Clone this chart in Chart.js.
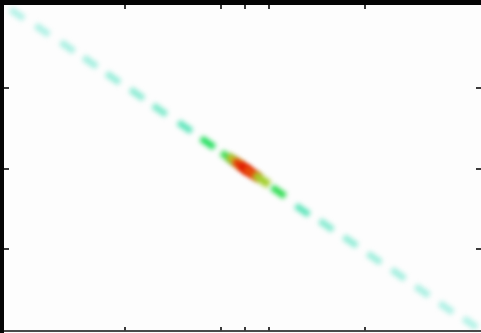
<!DOCTYPE html>
<html>
<head>
<meta charset="utf-8">
<script src="https://cdn.jsdelivr.net/npm/chart.js@4"></script>
<style>
  html, body { margin: 0; padding: 0; background: #fdfdfd; overflow: hidden; }
  #wrap { width: 481px; height: 333px; }
</style>
</head>
<body>
<div id="wrap"><canvas id="myChart" width="481" height="333"></canvas></div>
<script>
// values
const xValues = [-1.90, -1.69, -1.48, -1.29, -1.10, -0.90, -0.71, -0.50, -0.31, -0.14, -0.08, -0.03, 0.02, 0.06, 0.14, 0.28, 0.48, 0.68, 0.88, 1.08, 1.28, 1.48, 1.68, 1.88];
const yValues = [1.93, 1.73, 1.52, 1.33, 1.13, 0.93, 0.73, 0.52, 0.32, 0.14, 0.09, 0.03, -0.02, -0.06, -0.14, -0.29, -0.52, -0.71, -0.91, -1.12, -1.32, -1.53, -1.74, -1.93];
const intensity = [0.13, 0.15, 0.16, 0.17, 0.19, 0.21, 0.24, 0.3, 0.44, 0.48, 0.7, 0.95, 1.0, 0.9, 0.62, 0.47, 0.3, 0.22, 0.2, 0.18, 0.17, 0.16, 0.15, 0.14];
const xTicks = [-1, -0.2, 0, 0.2, 1];
const yTicks = [-1, 0, 1];

const palette = [
  [0.00, [210, 248, 240]],
  [0.15, [172, 240, 228]],
  [0.30, [90, 228, 185]],
  [0.45, [20, 220, 80]],
  [0.60, [150, 210, 40]],
  [0.75, [230, 170, 30]],
  [0.90, [230, 80, 10]],
  [1.00, [225, 20, 0]]
];

function colorFor(v) {
  for (let i = 1; i < palette.length; i++) {
    if (v <= palette[i][0]) {
      const [a, ca] = palette[i - 1];
      const [b, cb] = palette[i];
      const t = (v - a) / (b - a);
      const c = ca.map((n, k) => Math.round(n + (cb[k] - n) * t));
      return `rgb(${c[0]},${c[1]},${c[2]})`;
    }
  }
  return 'rgb(225,20,0)';
}

const points = xValues.map((x, i) => ({ x: x, y: yValues[i], v: intensity[i] }));

// soft look for the marks
const blurPlugin = {
  id: 'blur',
  beforeDatasetsDraw(chart) {
    chart.ctx.save();
    chart.ctx.filter = 'blur(2.4px)';
  },
  afterDatasetsDraw(chart) {
    chart.ctx.restore();
  }
};

// frame and inward ticks
const framePlugin = {
  id: 'frame',
  beforeDraw(chart) {
    const { ctx, width, height } = chart;
    ctx.save();
    ctx.fillStyle = '#fdfdfd';
    ctx.fillRect(0, 0, width, height);
    ctx.restore();
  },
  afterDraw(chart) {
    const { ctx, chartArea: a, scales } = chart;
    ctx.save();
    ctx.fillStyle = '#050505';
    ctx.fillRect(0, 0, chart.width, a.top - 1);
    ctx.fillRect(0, 0, a.left, chart.height);
    ctx.fillStyle = '#4a4a4a';
    ctx.fillRect(a.left, a.bottom - 1, a.right - a.left, 2);

    ctx.fillStyle = '#3a3a3a';
    xTicks.forEach(t => {
      const px = Math.round(scales.x.getPixelForValue(t));
      ctx.fillRect(px - 1, a.top - 1, 2, 4);
      ctx.fillRect(px - 1, a.bottom - 4, 2, 4);
    });
    yTicks.forEach(t => {
      const py = Math.round(scales.y.getPixelForValue(t));
      ctx.fillRect(a.left, py - 1, 5, 2);
      ctx.fillRect(a.right - 5, py - 1, 5, 2);
    });
    ctx.restore();
  }
};

const ctx = document.getElementById('myChart').getContext('2d');
new Chart(ctx, {
  type: 'scatter',
  data: {
    datasets: [{
      data: points,
      clip: false,
      pointStyle: 'line',
      rotation: 34.6,
      radius: c => (c.raw && c.raw.v > 0.5 ? 9 : 8),
      borderWidth: c => (c.raw && c.raw.v > 0.5 ? 8 : 6.5),
      borderColor: c => colorFor(c.raw ? c.raw.v : 0),
      backgroundColor: c => colorFor(c.raw ? c.raw.v : 0)
    }]
  },
  options: {
    responsive: false,
    animation: false,
    layout: { autoPadding: false, padding: { left: 4, top: 6, right: 0, bottom: 2 } },
    plugins: { legend: { display: false }, tooltip: { enabled: false } },
    scales: {
      x: { type: 'linear', min: -2.01, max: 1.97, display: false },
      y: { type: 'linear', min: -2.03, max: 2.03, display: false }
    }
  },
  plugins: [framePlugin, blurPlugin]
});
</script>
</body>
</html>
